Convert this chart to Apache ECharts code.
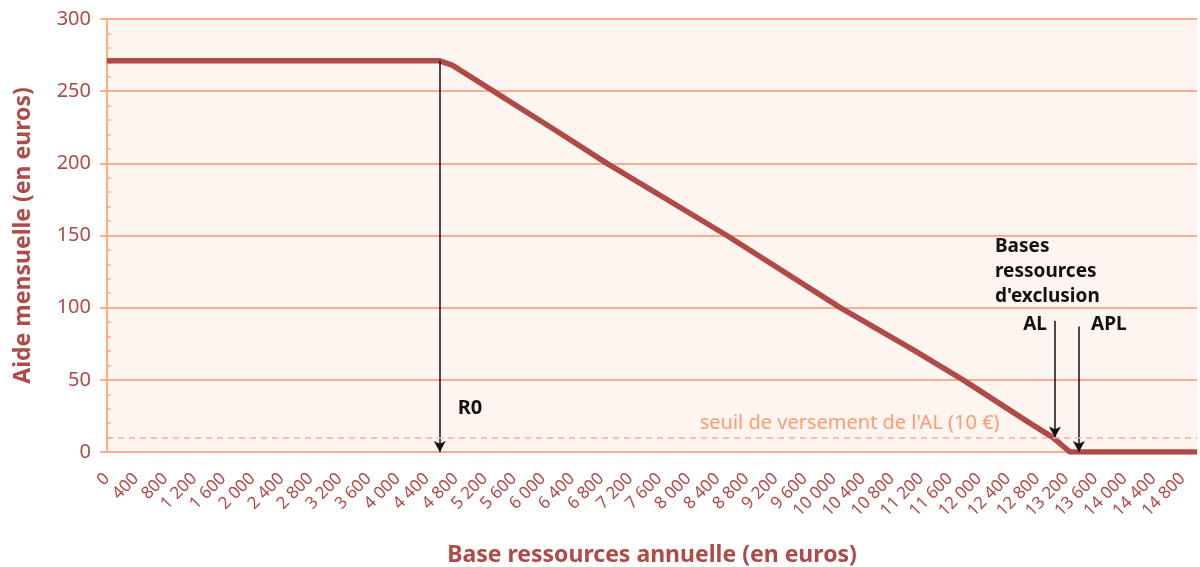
<!DOCTYPE html>
<html>
<head>
<meta charset="utf-8">
<script src="https://cdn.jsdelivr.net/npm/echarts@6/dist/echarts.min.js"></script>
<style>
  html, body { margin: 0; padding: 0; background: #fff; }
  #chart { width: 1200px; height: 567px; }
</style>
</head>
<body>
<div id="chart"></div>
<script>
// base ressources annuelle (euros) / aide mensuelle (euros)
var incomes = [0, 4580, 4750, 6230, 6880, 8530, 10090, 11090, 11780, 12700, 13020, 13250, 15000];
var aides = [271, 271, 268, 221, 200, 150, 100, 71, 50, 20, 10, 0, 0];

// repères
var r0 = 4580;
var r0Aide = 271;
var seuil = 10;
var exclusionAL = 13045;
var exclusionAPL = 13375;

var xTicks = { min: 0, max: 15000, interval: 400 };
var yTicks = { min: 0, max: 300, interval: 50 };

var red = '#b04a47';
var salmon = '#ffab8c';
var fontName = 'Noto Sans';

function fmt(v) {
  return String(v).replace(/\B(?=(\d{3})+(?!\d))/g, ' ');
}

var myChart = echarts.init(document.getElementById('chart'));

var points = [];
for (var i = 0; i < incomes.length; i++) {
  points.push([incomes[i], aides[i]]);
}

var option = {
  animation: false,
  textStyle: { fontFamily: fontName },
  grid: {
    left: 107, right: 3, top: 19, bottom: 115,
    containLabel: false,
    outerBoundsMode: 'none',
    show: true,
    backgroundColor: '#fff5f0',
    borderWidth: 0
  },
  xAxis: {
    type: 'value',
    min: xTicks.min,
    max: xTicks.max,
    interval: xTicks.interval,
    name: 'Base ressources annuelle (en euros)',
    nameLocation: 'middle',
    nameGap: 92,
    nameTextStyle: { color: red, fontSize: 23, fontWeight: 'bold', fontFamily: fontName },
    axisLine: { show: true, lineStyle: { color: salmon, width: 2 } },
    axisTick: { show: false },
    splitLine: { show: false },
    axisLabel: {
      rotate: 45,
      margin: 24,
      showMaxLabel: false,
      color: red,
      fontSize: 17,
      fontFamily: fontName,
      formatter: fmt
    }
  },
  yAxis: [{
    type: 'value',
    min: yTicks.min,
    max: yTicks.max,
    interval: yTicks.interval,
    name: 'Aide mensuelle (en euros)',
    nameLocation: 'middle',
    nameGap: 72,
    nameTextStyle: { color: red, fontSize: 23, fontWeight: 'bold', fontFamily: fontName },
    axisLine: { show: true, lineStyle: { color: salmon, width: 2 } },
    axisTick: { show: true, length: 7, lineStyle: { color: salmon, width: 2 } },
    splitLine: { show: true, lineStyle: { color: salmon, width: 2 } },
    axisLabel: { color: red, fontSize: 20, margin: 16, fontFamily: fontName }
  }, {
    // petites graduations intérieures
    type: 'value',
    position: 'left',
    min: yTicks.min,
    max: yTicks.max,
    interval: 10,
    axisLine: { show: false },
    axisTick: { show: true, inside: true, length: 4, lineStyle: { color: salmon, width: 1.5 } },
    splitLine: { show: false },
    axisLabel: { show: false }
  }],
  series: [{
    type: 'line',
    data: points,
    showSymbol: false,
    lineStyle: { color: red, width: 5.5 },
    z: 3,
    markLine: {
      silent: true,
      symbol: ['none', 'arrow'],
      symbolSize: [9, 11],
      label: { show: false },
      lineStyle: { color: '#111', width: 1.5, type: 'solid' },
      data: [
        [{ coord: [r0, r0Aide] }, { coord: [r0, 0] }],
        [{ coord: [exclusionAL, 91] }, { coord: [exclusionAL, seuil] }],
        [{ coord: [exclusionAPL, 87] }, { coord: [exclusionAPL, 0] }],
        [{ coord: [xTicks.min, seuil], symbol: 'none', lineStyle: { color: salmon, type: [6, 5], width: 1.5 } },
         { coord: [xTicks.max, seuil], symbol: 'none' }]
      ]
    },
    markPoint: {
      silent: true,
      symbol: 'circle',
      symbolSize: 0,
      data: [
        { coord: [4995, 30], label: { show: true, formatter: 'R0', color: '#111', fontSize: 20, fontWeight: 'bold', align: 'center', verticalAlign: 'middle' } },
        { coord: [10220, 20], label: { show: true, formatter: "seuil de versement de l'AL (10 €)", color: '#ff9a72', fontSize: 20, align: 'center', verticalAlign: 'middle' } },
        { coord: [12220, 124.7], label: { show: true, formatter: "Bases\nressources\nd'exclusion", color: '#111', fontSize: 19, fontWeight: 'bold', lineHeight: 25, align: 'left', verticalAlign: 'middle' } },
        { coord: [12935, 88], label: { show: true, formatter: 'AL', color: '#111', fontSize: 19, fontWeight: 'bold', align: 'right', verticalAlign: 'middle' } },
        { coord: [13541, 88], label: { show: true, formatter: 'APL', color: '#111', fontSize: 19, fontWeight: 'bold', align: 'left', verticalAlign: 'middle' } }
      ]
    }
  }]
};

myChart.setOption(option);
</script>
</body>
</html>
